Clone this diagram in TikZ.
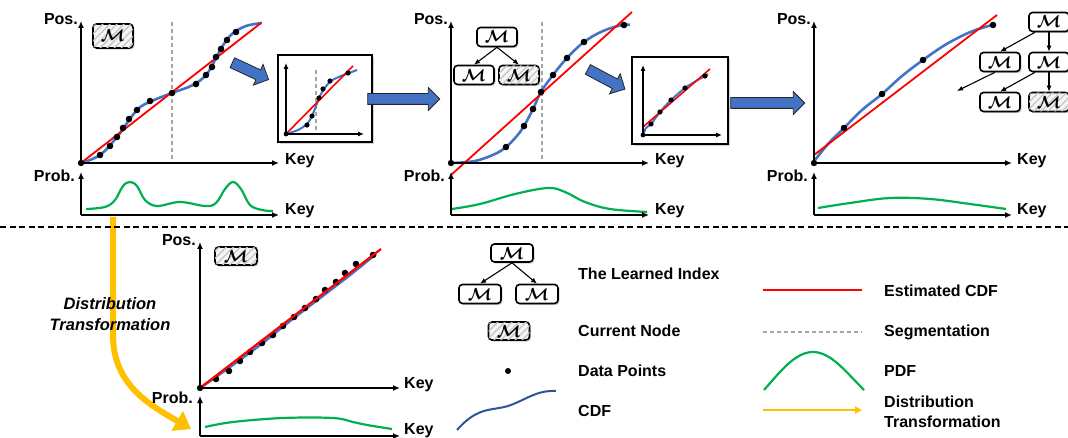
\documentclass[tikz,border=0pt]{standalone}
\usepackage{amsmath,amssymb}
\usepackage{fontspec}
\setmainfont{Liberation Sans}
\usepackage{tikz}
\usetikzlibrary{arrows.meta,patterns.meta,shadows,shapes.arrows,positioning}

\definecolor{cdfblue}{HTML}{4472C4}
\definecolor{legblue}{HTML}{2F5597}
\definecolor{estred}{HTML}{FF0000}
\definecolor{pdfgreen}{HTML}{00B050}
\definecolor{trgold}{HTML}{FFC000}
\definecolor{segray}{HTML}{A6A6A6}

\newcommand{\mm}{\scalebox{1.75}{$\boldsymbol{\mathcal{M}}$}}

\begin{document}
\begin{tikzpicture}[x=1pt, y=-1pt,
  lbl/.style={font=\bfseries\fontsize{16}{16}\selectfont, inner sep=0pt},
  leg/.style={font=\bfseries\fontsize{16}{20}\selectfont, inner sep=0pt, anchor=west, align=left},
  axis/.style={line width=1.4pt, -{Latex[length=7pt,width=6pt]}},
  smallaxis/.style={line width=1.1pt, -{Latex[length=6pt,width=5pt]}},
  mbox/.style={draw, line width=1.6pt, rounded corners=3.5pt, fill=white,
    minimum width=40pt, minimum height=19pt, inner sep=0pt,
    drop shadow={shadow xshift=1.6pt, shadow yshift=-1.6pt, opacity=0.35},
    font=\fontsize{10}{10}\selectfont},
  curbox/.style={mbox, fill=gray!8,
    postaction={pattern={Lines[angle=45,distance=5pt,line width=1.3pt]}, pattern color=gray!45}},
  estcdf/.style={estred, line width=1.8pt},
  cdf/.style={cdfblue, line width=2.6pt},
  pdf/.style={pdfgreen, line width=2.2pt},
  seg/.style={segray, line width=1.2pt, dash pattern=on 4pt off 3pt},
  inset/.style={draw, line width=2.2pt, fill=white,
    drop shadow={shadow xshift=2pt, shadow yshift=-2pt, opacity=0.35}},
  blockarrow/.style={single arrow, draw=black!85, line width=0.8pt, fill=cdfblue,
    inner sep=5pt, single arrow head extend=6pt, single arrow head indent=0pt},
  tree/.style={line width=1.1pt, -{Latex[length=6pt,width=5pt]}},
]
\useasboundingbox (0,0) rectangle (1068,438);

% distribution transformation (under everything)
\coordinate (ys) at (113,217);
\coordinate (ye) at (191,429);
\draw[trgold, line width=6pt, -{Triangle[length=16pt,width=22pt]}] (ys) -- (113,335) .. controls (113,385) and (150,405) .. (ye);
\node[font=\bfseries\itshape\fontsize{16.5}{21}\selectfont, align=center] (dt) at (110,314) {Distribution\\Transformation};

% first panel
\draw[seg] (172,22) -- (172,163);
\draw[cdf] plot[smooth, tension=0.6] coordinates {(81,163) (100,155) (117,137) (137,110) (152,101) (172,93) (193,85) (206,75) (214,62) (222,47) (232,34) (246,26) (262,23)};
\draw[estcdf] (81,163) -- (261,23);
\foreach \p in {(100,155),(110,146),(117,137),(123,128),(129,119),(137,110),(150,101),(172,93),(196,84),(206,75),(212,67),(216,57),(221,49),(227,40),(236,32)}
  \fill \p circle (3.3pt);
\draw[axis] (81,163) -- (279,163);
\draw[axis] (81,163) -- (81,21);
\fill (81,163) circle (3.2pt);
\node[lbl, anchor=east] (pos1) at (78,19) {Pos.};
\node[lbl, anchor=west] (key1) at (285,161) {Key};
\draw[pdf] plot[smooth, tension=0.6] coordinates {(86,209) (105,207) (115,200) (123,186) (130,182) (137,186) (145,200) (157,206) (180,202) (205,206) (216,203) (225,189) (233,182) (241,189) (250,205) (262,210) (273,211)};
\draw[axis] (81,215) -- (279,215);
\draw[axis] (81,215) -- (81,172);
\node[lbl, anchor=east] (prob1) at (75,176) {Prob.};
\node[lbl, anchor=west] (keyp1) at (285,211) {Key};
\node[curbox, minimum height=24pt] (m1) at (113,36) {\mm};

% first zoom box
\node[blockarrow, rotate=-25, minimum height=40pt] (ba1) at (248,70) {};
\draw[inset] (278,55) rectangle (372,142);
\draw[seg] (316,70) -- (316,134);
\draw[cdf, line width=2pt] plot[smooth] coordinates {(286,134) (298,130) (307,124) (312,116) (316,106) (319,98) (324,89) (331,81) (341,76) (349,73) (357,70)};
\draw[estcdf, line width=1.6pt] (286,134) -- (353,66);
\foreach \p in {(307,125),(312,116),(319,98),(323,89),(330,81),(348,73)}
  \fill \p circle (2.6pt);
\draw[smallaxis] (286,134) -- (364,134);
\draw[smallaxis] (286,134) -- (286,63);
\fill (286,134) circle (2.4pt);
\node[blockarrow, minimum height=72pt] (ba2) at (401,99) {};

% second panel
\draw[seg] (542,22) -- (542,163);
\draw[cdf] plot[smooth, tension=0.6] coordinates {(451,163) (475,161) (495,154) (506,147) (516,137) (524,126) (533,109) (541,92) (553,75) (567,58) (584,42) (603,31) (622,25) (630,25)};
\draw[estcdf] (451,175) -- (632,12);
\foreach \p in {(506,147),(524,126),(533,109),(541,92),(553,75),(567,58),(584,42),(624,25)}
  \fill \p circle (3.3pt);
\draw[axis] (451,163) -- (649,163);
\draw[axis] (451,163) -- (451,21);
\fill (451,163) circle (3.2pt);
\node[lbl, anchor=east] (pos2) at (448,19) {Pos.};
\node[lbl, anchor=west] (key2) at (655,161) {Key};
\draw[pdf] plot[smooth, tension=0.6] coordinates {(452,209) (480,204) (515,194) (548,188) (565,192) (585,202) (610,209) (647,212)};
\draw[axis] (451,215) -- (649,215);
\draw[axis] (451,215) -- (451,172);
\node[lbl, anchor=east] (prob2) at (445,176) {Prob.};
\node[lbl, anchor=west] (keyp2) at (655,211) {Key};
\node[mbox] (r2) at (497,37) {\mm};
\node[mbox] (l2) at (474,75) {\mm};
\node[curbox] (c2) at (519,75) {\mm};
\draw[tree] (r2.south) -- (l2.north);
\draw[tree] (r2.south) -- (c2.north);

% second zoom box
\node[blockarrow, rotate=-28, minimum height=42pt] (ba3) at (604,78) {};
\draw[inset] (632,57) rectangle (728,144);
\draw[cdf, line width=2pt] plot[smooth] coordinates {(643,135) (646,128) (651,124) (660,112) (671,100) (685,88) (696,81) (705,76) (708,74)};
\draw[estcdf, line width=1.6pt] (643,127) -- (710,69);
\foreach \p in {(651,124),(660,112),(671,100),(685,88),(705,76)}
  \fill \p circle (2.6pt);
\draw[smallaxis] (643,135) -- (722,135);
\draw[smallaxis] (643,135) -- (643,65);
\fill (643,135) circle (2.4pt);
\node[blockarrow, minimum height=74pt] (ba4) at (765,103) {};

% third panel
\draw[cdf] plot[smooth, tension=0.6] coordinates {(815,160) (828,144) (844,128) (862,110) (882,94) (902,76) (923,60) (945,45) (968,33) (985,27) (993,25)};
\draw[estcdf] (814,155) -- (997,15);
\foreach \p in {(844,128),(882,94),(923,60),(993,25)}
  \fill \p circle (3.3pt);
\draw[axis] (814,163) -- (1012,163);
\draw[axis] (814,163) -- (814,21);
\fill (814,163) circle (3.2pt);
\node[lbl, anchor=east] (pos3) at (811,19) {Pos.};
\node[lbl, anchor=west] (key3) at (1017,161) {Key};
\draw[pdf] plot[smooth, tension=0.6] coordinates {(818,208) (850,203) (890,198) (930,199) (970,204) (1006,209)};
\draw[axis] (814,215) -- (1012,215);
\draw[axis] (814,215) -- (814,172);
\node[lbl, anchor=east] (prob3) at (808,176) {Prob.};
\node[lbl, anchor=west] (keyp3) at (1017,211) {Key};
\node[mbox] (r3) at (1049,22) {\mm};
\node[mbox] (l3) at (1000,62) {\mm};
\node[mbox] (m3) at (1049,62) {\mm};
\node[mbox] (ll3) at (1000,102) {\mm};
\node[curbox] (c3) at (1049,102) {\mm};
\coordinate (free3) at (957,91);
\draw[tree] ([xshift=-14pt]r3.south) -- (l3.north);
\draw[tree] (r3.south) -- (m3.north);
\draw[tree] ([xshift=-14pt]m3.south) -- (ll3.north);
\draw[tree] (m3.south) -- (c3.north);
\draw[tree] ([xshift=-5pt]l3.south) -- (free3);

% separator
\draw[line width=1.8pt, dash pattern=on 6pt off 3.5pt] (0,227) -- (1068,227);

% transformed panel
\draw[cdf] plot[smooth] coordinates {(200,388) (230,367) (260,345) (290,321) (320,298) (350,275) (376,254)};
\foreach \p in {(216,379),(229,371),(240,361),(250,352),(262,343),(273,335),(283,326),(294,317),(305,308),(316,299),(325,290),(336,282),(345,273),(356,264),(373,255)}
  \fill \p circle (3.3pt);
\draw[estcdf, line width=2.2pt] (200,388) -- (381,249);
\draw[axis] (200,388) -- (400,388);
\draw[axis] (200,388) -- (200,242);
\fill (200,388) circle (3.2pt);
\node[lbl, anchor=east] (pos4) at (196,240) {Pos.};
\node[lbl, anchor=west] (key4) at (404,385) {Key};
\draw[pdf] plot[smooth, tension=0.6] coordinates {(205,427) (233,422) (283,418) (333,418) (353,422) (367,425) (392,429)};
\draw[axis] (200,436) -- (400,436);
\draw[axis] (200,436) -- (200,396);
\node[lbl, anchor=east] (prob4) at (193,398) {Prob.};
\node[lbl, anchor=west] (keyp4) at (404,431) {Key};
\node[curbox, minimum width=42pt, minimum height=18pt] (m4) at (236,256) {\mm};

% legend
\node[mbox, minimum width=42pt, minimum height=18pt] (lr) at (512,253) {\mm};
\node[mbox, minimum width=42pt, minimum height=19pt] (ll) at (480,294) {\mm};
\node[mbox, minimum width=42pt, minimum height=19pt] (lrr) at (537,294) {\mm};
\draw[tree] (lr.south) -- (ll.north);
\draw[tree] (lr.south) -- (lrr.north);
\node[leg] (lidx) at (578,274) {The Learned Index};
\node[curbox, minimum width=41pt, minimum height=18pt] (lcur) at (509,331) {\mm};
\node[leg] (lcurt) at (578,331) {Current Node};
\fill (508,371) circle (3pt);
\node[leg] (ldat) at (578,371) {Data Points};
\draw[legblue, line width=2pt] (457,430) .. controls (478,406) and (492,411) .. (508,406) .. controls (526,400) and (536,390) .. (556,391);
\node[leg] (lcdf) at (578,411) {CDF};
\draw[estcdf] (763,290) -- (862,290);
\node[leg] (lest) at (884,291) {Estimated CDF};
\draw[seg] (763,332) -- (862,332);
\node[leg] (lseg) at (884,332) {Segmentation};
\draw[pdf] (764,390) .. controls (780,372) and (795,352) .. (813,352) .. controls (831,352) and (846,372) .. (864,390);
\node[leg] (lpdf) at (884,371) {PDF};
\coordinate (lts) at (763,410);
\coordinate (lte) at (862,410);
\draw[trgold, line width=2pt, -{Triangle[length=7pt,width=7pt]}] (lts) -- (lte);
\node[leg] (ltr) at (884,412) {Distribution\\Transformation};
\end{tikzpicture}
\end{document}
